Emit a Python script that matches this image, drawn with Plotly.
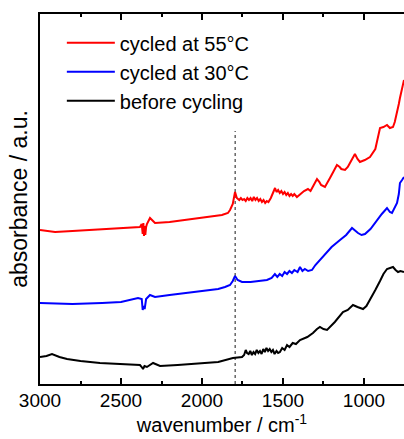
import plotly.graph_objects as go

# ---- data ----
red_wn = [3000, 2907, 2800, 2617, 2500, 2383, 2372, 2366, 2362, 2358, 2354, 2350, 2345, 2340, 2321, 2290,
          2200, 2105, 2000, 1877, 1840, 1827, 1810, 1796, 1785, 1770, 1760, 1750, 1740, 1730, 1720,
          1710, 1700, 1690, 1680, 1670, 1660, 1650, 1640, 1630, 1620, 1610, 1600, 1590, 1575, 1560,
          1549, 1540, 1530, 1520, 1510, 1500, 1490, 1480, 1470, 1460, 1450, 1440, 1430, 1414, 1400,
          1390, 1370, 1346, 1330, 1320, 1305, 1290, 1275, 1265, 1241, 1225, 1210, 1190, 1167, 1150,
          1140, 1117, 1100, 1090, 1070, 1056, 1040, 1025, 995, 963, 930, 901, 880, 858, 840, 821, 810,
          796, 785, 778, 765, 753]
red_ab = [1.54, 1.52, 1.53, 1.55, 1.56, 1.57, 1.60, 1.50, 1.61, 1.48, 1.58, 1.49, 1.57, 1.60, 1.66, 1.61,
          1.62, 1.64, 1.66, 1.69, 1.71, 1.74, 1.80, 1.92, 1.86, 1.84, 1.86, 1.84, 1.85, 1.83, 1.86,
          1.84, 1.86, 1.83, 1.87, 1.84, 1.86, 1.83, 1.85, 1.82, 1.84, 1.81, 1.83, 1.82, 1.86, 1.92,
          1.96, 1.92, 1.94, 1.91, 1.93, 1.90, 1.92, 1.89, 1.91, 1.88, 1.90, 1.88, 1.90, 1.87, 1.89,
          1.90, 1.93, 1.95, 1.93, 1.96, 2.01, 2.05, 2.02, 1.99, 1.97, 2.01, 2.06, 2.12, 2.19, 2.17,
          2.15, 2.14, 2.17, 2.20, 2.26, 2.30, 2.25, 2.22, 2.24, 2.27, 2.35, 2.56, 2.57, 2.59, 2.56,
          2.57, 2.62, 2.71, 2.80, 2.86, 2.94, 3.04]

blue_wn = [3000, 2800, 2617, 2500, 2395, 2372, 2366, 2360, 2354, 2345, 2321, 2290, 2200, 2105, 2000,
           1900, 1858, 1827, 1810, 1796, 1780, 1753, 1700, 1650, 1599, 1570, 1550, 1535, 1520, 1505,
           1490, 1475, 1460, 1445, 1430, 1410, 1395, 1380, 1365, 1345, 1321, 1300, 1272, 1240, 1200,
           1148, 1110, 1074, 1055, 1037, 1015, 994, 960, 920, 890, 858, 840, 827, 810, 796, 785, 778,
           765, 753]
blue_ab = [0.81, 0.80, 0.81, 0.82, 0.86, 0.85, 0.74, 0.78, 0.75, 0.85, 0.89, 0.87, 0.89, 0.91, 0.93,
           0.95, 0.97, 0.99, 1.03, 1.08, 1.04, 1.02, 1.02, 1.03, 1.04, 1.06, 1.10, 1.07, 1.10, 1.08,
           1.12, 1.10, 1.13, 1.11, 1.14, 1.12, 1.17, 1.13, 1.15, 1.13, 1.14, 1.19, 1.24, 1.30, 1.37,
           1.44, 1.49, 1.56, 1.53, 1.51, 1.49, 1.50, 1.55, 1.64, 1.70, 1.76, 1.72, 1.71, 1.76, 1.81,
           1.90, 2.01, 2.04, 2.07]

black_wn = [3000, 2960, 2926, 2880, 2833, 2750, 2630, 2500, 2383, 2372, 2364, 2355, 2340, 2302, 2259,
            2150, 2012, 1900, 1809, 1753, 1740, 1730, 1722, 1712, 1702, 1692, 1682, 1672, 1662, 1652,
            1642, 1632, 1622, 1612, 1602, 1592, 1582, 1572, 1562, 1552, 1540, 1530, 1519, 1505, 1490,
            1475, 1460, 1440, 1420, 1395, 1350, 1315, 1290, 1272, 1250, 1228, 1180, 1130, 1100, 1068,
            1040, 1006, 985, 963, 930, 901, 880, 858, 840, 821, 805, 790, 775, 753]
black_ab = [0.27, 0.28, 0.30, 0.27, 0.25, 0.23, 0.21, 0.20, 0.19, 0.17, 0.15, 0.18, 0.17, 0.21, 0.18,
            0.19, 0.21, 0.22, 0.26, 0.27, 0.29, 0.34, 0.31, 0.30, 0.33, 0.29, 0.32, 0.30, 0.34, 0.31,
            0.33, 0.30, 0.35, 0.32, 0.36, 0.33, 0.35, 0.32, 0.34, 0.30, 0.33, 0.31, 0.32, 0.36, 0.34,
            0.39, 0.37, 0.41, 0.40, 0.44, 0.47, 0.51, 0.55, 0.57, 0.55, 0.54, 0.62, 0.72, 0.74, 0.79,
            0.77, 0.75, 0.78, 0.84, 0.94, 1.03, 1.10, 1.15, 1.16, 1.17, 1.14, 1.12, 1.13, 1.12]

series_names = ["cycled at 55°C", "cycled at 30°C", "before cycling"]
series_colors = ["#ff0000", "#0000ff", "#000000"]
marker_wavenumber = 1795
marker_top = 2.53

x_ticks = [3000, 2500, 2000, 1500, 1000]

fig = go.Figure()
for i, (wn, ab) in enumerate([(red_wn, red_ab), (blue_wn, blue_ab), (black_wn, black_ab)]):
    fig.add_trace(go.Scatter(
        x=wn, y=ab, mode="lines", name=series_names[i],
        line=dict(color=series_colors[i], width=2),
        legendgroup=f"g{i}",
    ))

fig.add_shape(type="line", xref="x", yref="y",
              x0=marker_wavenumber, x1=marker_wavenumber, y0=0, y1=marker_top,
              line=dict(color="#666666", width=1.5, dash="dot"), layer="below")

font_family = "Liberation Sans, Arial, sans-serif"

fig.update_layout(
    width=404, height=439,
    margin=dict(l=40, r=0, t=14, b=55),
    paper_bgcolor="white", plot_bgcolor="white",
    font=dict(family=font_family, size=19, color="black"),
    showlegend=True,
    legend=dict(x=0.06, y=0.975, xanchor="left", yanchor="top",
                bgcolor="rgba(0,0,0,0)", font=dict(size=20),
                traceorder="grouped", tracegroupgap=0, itemwidth=48),
    xaxis=dict(range=[3000, 753], tickvals=x_ticks, ticks="inside", ticklen=6, tickwidth=2,
               tickcolor="black", showline=True, linewidth=2, linecolor="black", mirror="allticks",
               showgrid=False, zeroline=False,
               minor=dict(dtick=250, ticks="inside", ticklen=3, tickwidth=2, tickcolor="black"),
               title=dict(text="wavenumber / cm<sup>-1</sup>", standoff=4, font=dict(size=20)),
               tickfont=dict(size=19), ticklabelstandoff=-2, automargin=False),
    yaxis=dict(range=[0, 3.70], showticklabels=False, ticks="", showline=True, linewidth=2,
               linecolor="black", showgrid=False, zeroline=False, automargin=False,
               title=dict(text="absorbance / a.u.", standoff=4, font=dict(size=23))),
)

fig.write_html("out.html", config={"displayModeBar": False})

# remove the default page margin so the figure sits at the window's top-left corner
with open("out.html", "r", encoding="utf-8") as f:
    html = f.read()
html = html.replace("<head>", "<head><style>html,body{margin:0;padding:0;overflow:hidden;}</style>", 1)
with open("out.html", "w", encoding="utf-8") as f:
    f.write(html)
